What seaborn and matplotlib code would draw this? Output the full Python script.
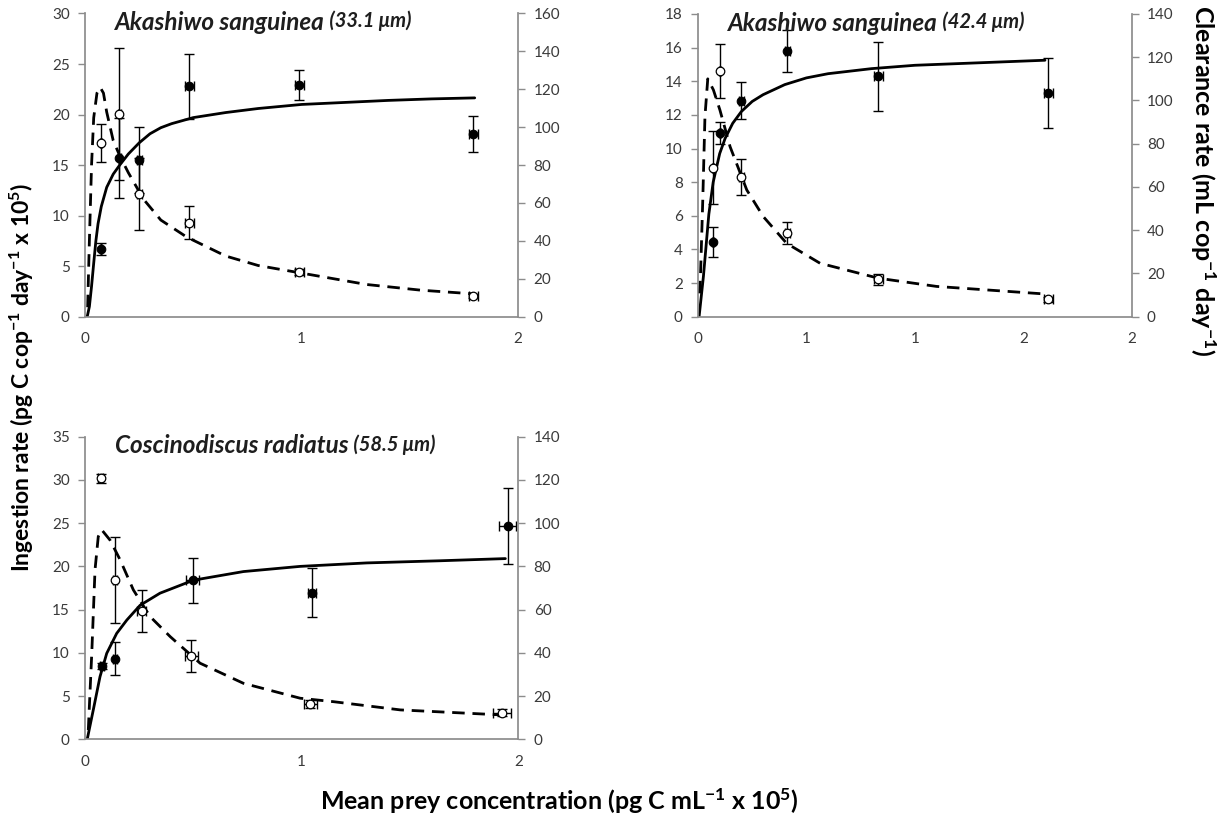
import matplotlib
matplotlib.use("Agg")
import matplotlib.pyplot as plt
import seaborn as sns

# =========================
# 1. DATA
# =========================

# Panel A: Akashiwo sanguinea (33.1 um)
a33_x = [0.072, 0.159, 0.251, 0.482, 0.99, 1.794]
a33_ing = [6.7, 15.7, 15.5, 22.8, 22.9, 18.1]
a33_ing_err = [0.6, 4.0, 3.3, 3.2, 1.5, 1.8]
a33_clr = [91.5, 107, 65, 49.6, 23.7, 10.9]
a33_clr_err = [10, 35, 19, 8.6, 1.5, 1.2]
a33_xerr = [0.005, 0.005, 0.01, 0.02, 0.02, 0.02]
a33_fit_ing_x = [0.01, 0.02, 0.03, 0.04, 0.05, 0.06, 0.075, 0.1, 0.13, 0.16, 0.2, 0.25,
                 0.3, 0.35, 0.4, 0.5, 0.65, 0.8, 1.0, 1.2, 1.4, 1.6, 1.8]
a33_fit_ing = [0.0, 1.0, 3.0, 5.3, 7.5, 9.2, 10.9, 12.8, 14.1, 15.0, 16.1, 17.2,
               18.1, 18.7, 19.1, 19.7, 20.2, 20.6, 21.0, 21.2, 21.4, 21.55, 21.65]
a33_fit_clr_x = [0.012, 0.02, 0.03, 0.04, 0.055, 0.07, 0.085, 0.1, 0.13, 0.16, 0.2, 0.27,
                 0.35, 0.47, 0.65, 0.8, 1.0, 1.3, 1.55, 1.8]
a33_fit_clr = [5, 40, 80, 105, 118, 121, 118, 108, 93, 85, 76, 62,
               51, 42, 32, 27, 23, 17, 14, 12]

# Panel B: Akashiwo sanguinea (42.4 um)
a42_x = [0.071, 0.101, 0.2, 0.412, 0.832, 1.616]
a42_ing = [4.46, 10.94, 12.84, 15.8, 14.3, 13.3]
a42_ing_err = [0.9, 0.65, 1.1, 1.25, 2.05, 2.1]
a42_clr = [69, 113.6, 64.5, 38.6, 17.3, 8.0]
a42_clr_err = [17, 12.5, 8.3, 5, 2.5, 1]
a42_xerr = [0.005, 0.005, 0.01, 0.01, 0.02, 0.02]
a42_fit_ing_x = [0.005, 0.025, 0.05, 0.07, 0.1, 0.125, 0.16, 0.2, 0.25, 0.3, 0.4, 0.5,
                 0.6, 0.8, 1.0, 1.2, 1.4, 1.6]
a42_fit_ing = [0.0, 2.4, 6.1, 8.0, 9.7, 10.6, 11.5, 12.2, 12.8, 13.2, 13.8, 14.2,
               14.45, 14.75, 14.95, 15.05, 15.15, 15.25]
a42_fit_clr_x = [0.009, 0.022, 0.032, 0.045, 0.071, 0.101, 0.148, 0.225, 0.301, 0.409,
                 0.563, 0.832, 1.1, 1.6]
a42_fit_clr = [10.8, 54, 92.5, 110, 104.9, 95.6, 78.6, 58.6, 46.3, 33.9,
               24.7, 17.8, 14, 10.5]

# Panel C: Coscinodiscus radiatus (58.5 um)
c58_ing_x = [0.077, 0.139, 0.497, 1.047, 1.951]
c58_ing = [8.48, 9.33, 18.4, 16.96, 24.66]
c58_ing_err = [0.4, 1.9, 2.6, 2.8, 4.35]
c58_ing_xerr = [0.01, 0.01, 0.03, 0.02, 0.04]
c58_clr_x = [0.072, 0.139, 0.262, 0.49, 1.039, 1.925]
c58_clr = [120.8, 73.7, 59.4, 38.6, 16.4, 12.3]
c58_clr_err = [2, 20, 9.6, 7.3, 2, 1.5]
c58_clr_xerr = [0.01, 0.01, 0.02, 0.03, 0.03, 0.04]
c58_fit_ing_x = [0.01, 0.038, 0.069, 0.1, 0.146, 0.193, 0.254, 0.346, 0.5, 0.731,
                 0.993, 1.3, 1.64, 1.94]
c58_fit_ing = [0.0, 3.4, 7.24, 9.94, 12.25, 13.8, 15.5, 16.9, 18.4, 19.4,
               20.0, 20.4, 20.65, 20.9]
c58_fit_clr_x = [0.015, 0.031, 0.046, 0.061, 0.077, 0.115, 0.162, 0.223, 0.3, 0.393,
                 0.531, 0.731, 0.993, 1.147, 1.455, 1.917]
c58_fit_clr = [4.3, 39.8, 78.4, 93.8, 96.9, 92.2, 83, 69.1, 56.8, 47.5,
               35.2, 25.9, 19.0, 17.4, 13.6, 11.3]

# axis ticks
x_ticks_wide = [0, 1, 2]
x_ticks_fine = [0, 0.5, 1, 1.5, 2]
x_labels_fine = ["0", "1", "1", "2", "2"]

# =========================
# 2. STYLE
# =========================
sns.set_theme(style="white")
plt.rcParams['font.family'] = ['Lato', 'DejaVu Sans']
plt.rcParams['mathtext.default'] = 'regular'

AXIS_GREY = '#8c8c8c'
TICK_TXT = '#3a3a3a'

fig = plt.figure(figsize=(12.22, 8.23), dpi=100)


def style_axis(ax, side):
    for s in ['top', 'left', 'right', 'bottom']:
        ax.spines[s].set_visible(False)
    ax.spines['bottom'].set_visible(True)
    ax.spines['bottom'].set_color(AXIS_GREY)
    ax.spines[side].set_visible(True)
    ax.spines[side].set_color(AXIS_GREY)
    ax.tick_params(axis='both', direction='out', length=5, width=1, color=AXIS_GREY,
                   labelcolor=TICK_TXT, labelsize=11, pad=6)


def draw_panel(rect, species, size, ing_x, ing, ing_err, ing_xerr, clr_x, clr, clr_err, clr_xerr,
               fit_ing_x, fit_ing, fit_clr_x, fit_clr, ymax_left, ystep_left, ymax_right,
               xticks, xlabels):
    ax = fig.add_axes(rect)
    ax2 = ax.twinx()
    ax.patch.set_alpha(0)

    # ingestion (left axis)
    sns.lineplot(x=fit_ing_x, y=fit_ing, ax=ax, color='black', lw=2.0, sort=False)
    ax.errorbar(ing_x, ing, yerr=ing_err, xerr=ing_xerr, fmt='none', ecolor='black',
                elinewidth=1, capsize=3.5, capthick=1)
    sns.scatterplot(x=ing_x, y=ing, ax=ax, color='black', marker='o', s=38,
                    edgecolor='black', linewidth=0.8, zorder=5)

    # clearance (right axis)
    sns.lineplot(x=fit_clr_x, y=fit_clr, ax=ax2, color='black', lw=2.0, sort=False,
                 linestyle='--')
    ax2.lines[-1].set_dashes((4.5, 2.8))
    ax2.errorbar(clr_x, clr, yerr=clr_err, xerr=clr_xerr, fmt='none', ecolor='black',
                 elinewidth=1, capsize=3.5, capthick=1)
    sns.scatterplot(x=clr_x, y=clr, ax=ax2, color='white', marker='o', s=38,
                    edgecolor='black', linewidth=0.9, zorder=5)

    ax.set_xlim(0, 2)
    ax.set_ylim(0, ymax_left)
    ax2.set_ylim(0, ymax_right)
    ax.set_yticks(range(0, ymax_left + 1, ystep_left))
    ax2.set_yticks(range(0, ymax_right + 1, 20))
    ax.set_xticks(xticks)
    ax.set_xticklabels(xlabels)
    ax.set_xlabel('')
    ax.set_ylabel('')
    ax2.set_ylabel('')
    style_axis(ax, 'left')
    style_axis(ax2, 'right')
    ax2.spines['bottom'].set_visible(False)

    t = ax.text(0.07, 0.97, species, transform=ax.transAxes, fontsize=17.5,
                fontweight='bold', style='italic', va='center', ha='left', color='#1e1e1e')
    ax.annotate(" " + size, xy=(1, 0.12), xycoords=t, fontsize=14.5, fontweight='bold',
                style='italic', va='bottom', ha='left', color='#1e1e1e')
    return ax, ax2


# =========================
# 3. PANELS
# =========================
draw_panel([0.0696, 0.6152, 0.3543, 0.3684], "Akashiwo sanguinea", "(33.1 μm)",
           a33_x, a33_ing, a33_ing_err, a33_xerr, a33_x, a33_clr, a33_clr_err, a33_xerr,
           a33_fit_ing_x, a33_fit_ing, a33_fit_clr_x, a33_fit_clr, 30, 5, 160,
           x_ticks_wide, [str(v) for v in x_ticks_wide])

draw_panel([0.5712, 0.6152, 0.3549, 0.3678], "Akashiwo sanguinea", "(42.4 μm)",
           a42_x, a42_ing, a42_ing_err, a42_xerr, a42_x, a42_clr, a42_clr_err, a42_xerr,
           a42_fit_ing_x, a42_fit_ing, a42_fit_clr_x, a42_fit_clr, 18, 2, 140,
           x_ticks_fine, x_labels_fine)

draw_panel([0.0696, 0.1017, 0.3546, 0.3677], "Coscinodiscus radiatus", "(58.5 μm)",
           c58_ing_x, c58_ing, c58_ing_err, c58_ing_xerr, c58_clr_x, c58_clr, c58_clr_err,
           c58_clr_xerr, c58_fit_ing_x, c58_fit_ing, c58_fit_clr_x, c58_fit_clr, 35, 5, 140,
           x_ticks_wide, [str(v) for v in x_ticks_wide])

# shared labels
fig.text(0.018, 0.542, "Ingestion rate (pg C cop$^{-1}$ day$^{-1}$ x 10$^{5}$)", rotation=90,
         ha='center', va='center', fontsize=16.5, fontweight='bold', color='black')
fig.text(0.984, 0.781, "Clearance rate (mL cop$^{-1}$ day$^{-1}$)", rotation=270,
         ha='center', va='center', fontsize=18, fontweight='bold', color='black')
fig.text(0.458, 0.027, "Mean prey concentration (pg C mL$^{-1}$ x 10$^{5}$)",
         ha='center', va='center', fontsize=18, fontweight='bold', color='black')

plt.savefig("out.png", dpi=100)
